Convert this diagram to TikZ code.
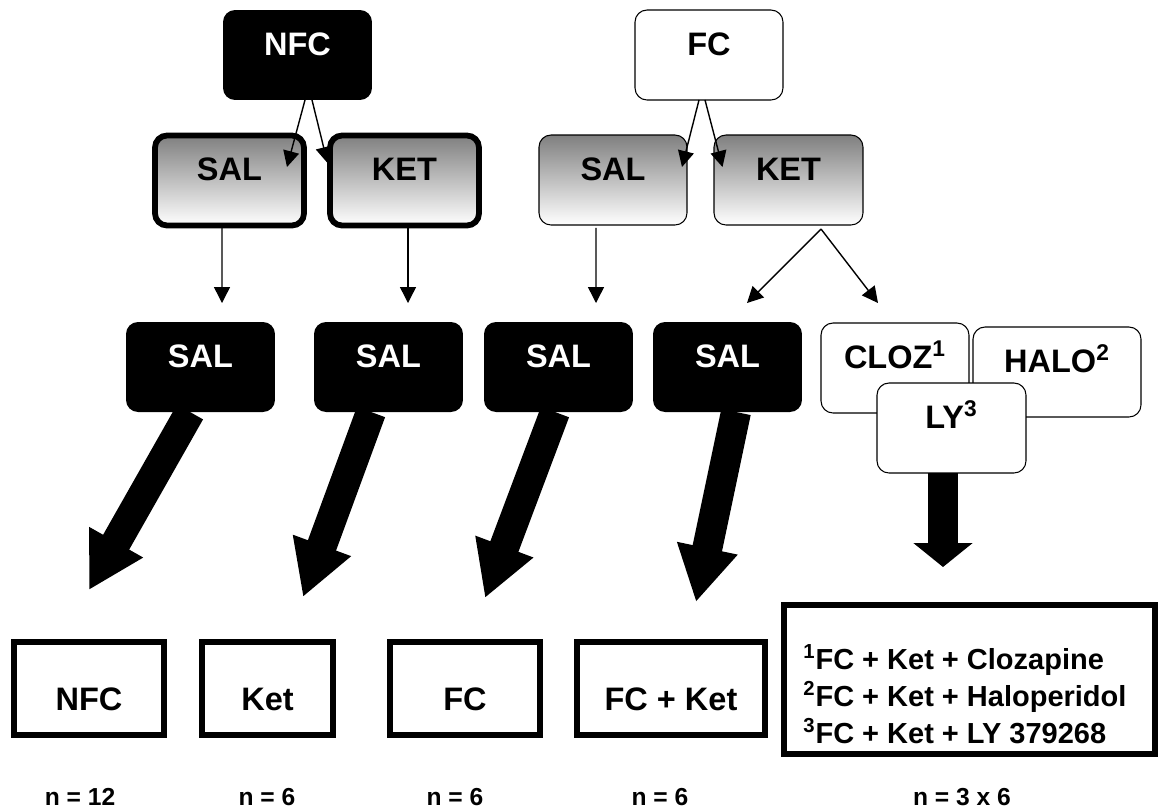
\documentclass[tikz,border=0pt]{standalone}
\usepackage{fontspec}
\setmainfont{Liberation Sans}
\usepackage{tikz}
\usetikzlibrary{shapes,arrows.meta,calc}

\begin{document}
\begin{tikzpicture}[x=0.02cm,y=-0.02cm,
    box/.style={rounded corners=0.24cm, outer sep=0pt, minimum width=2.98cm,
        minimum height=1.8cm, text height=0.5cm, text depth=0.5cm,
        font=\fontsize{18.5}{22}\selectfont\bfseries},
    blackbox/.style={box, fill=black, text=white},
    whitebox/.style={box, draw, line width=0.6pt, fill=white},
    gradbox/.style={box, draw, line width=0.6pt, top color=black!50, bottom color=white},
    heavybox/.style={gradbox, line width=3.3pt},
    resbox/.style={draw, line width=3.1pt, outer sep=0pt, minimum height=1.86cm,
        text height=0.88cm, text depth=0pt, font=\fontsize{18.5}{22}\selectfont\bfseries},
    thin/.style={line width=0.8pt, -{Triangle[length=0.32cm,width=0.32cm]}},
    fat/.style={line width=0.6cm, -{Triangle[length=1.1cm,width=1.16cm]}},
    count/.style={anchor=base, font=\fontsize{14}{16}\selectfont\bfseries}]
    \useasboundingbox (0,0) rectangle (1160,809);

    % Draw the groups
    \node [blackbox] (nfc) at (297.5,55) {NFC};
    \node [whitebox, minimum width=2.96cm] (fc) at (709,55) {FC};

    % Draw the first injection
    \node [heavybox] (sal1) at (229.5,180.5) {SAL};
    \node [heavybox] (ket1) at (404.5,180.5) {KET};
    \node [gradbox, minimum width=2.96cm] (sal2) at (613,180) {SAL};
    \node [gradbox] (ket2) at (788.5,180) {KET};

    % Draw the second injection
    \node [blackbox] (s1) at (200.5,367) {SAL};
    \node [blackbox] (s2) at (388.5,367) {SAL};
    \node [blackbox] (s3) at (558.5,367) {SAL};
    \node [blackbox] (s4) at (727.5,367) {SAL};
    \node [whitebox, minimum width=2.96cm] (cloz) at (895,368) {CLOZ\textsuperscript{1}};
    \node [whitebox, minimum width=3.36cm] (halo) at (1057,372) {HALO\textsuperscript{2}};
    \node [whitebox] (ly) at (951.5,428) {LY\textsuperscript{3}};

    % Draw the test groups
    \node [resbox, minimum width=3cm] (b1) at (89,688.5) {NFC};
    \node [resbox, minimum width=2.62cm] (b2) at (267.5,688.5) {Ket};
    \node [resbox, minimum width=3cm] (b3) at (465,688.5) {FC};
    \node [resbox, minimum width=3.76cm] (b4) at (671,688.5) {FC + Ket};
    \node [draw, line width=3.4pt, outer sep=0pt, minimum width=7.42cm,
        minimum height=2.98cm] (b5) at (969.5,679.5) {};
    \node [anchor=north west, inner sep=0pt, align=left,
        font=\fontsize{16.5}{21}\selectfont\bfseries] (keytext)
        at ($(b5.north west)+(19,39)$)
        {\textsuperscript{1}FC + Ket + Clozapine\\
         \textsuperscript{2}FC + Ket + Haloperidol\\
         \textsuperscript{3}FC + Ket + LY 379268};

    % Draw the thin arrows
    \draw [thin] ($(nfc.south)+(7.5,0)$) -- ($(sal1.north east)+(-17,31.5)$);
    \draw [thin] ($(nfc.south)+(14.5,0)$) -- ($(ket1.north west)+(-2.5,27.5)$);
    \draw [thin] ($(fc.south)+(-10,0)$) -- ($(sal2.north east)+(-5,32)$);
    \draw [thin] ($(fc.south)+(-4,0)$) -- ($(ket2.north west)+(8.5,32)$);
    \draw [thin] ($(sal1.south)+(-7.5,0)$) -- ($(s1.north)+(21.5,-19)$);
    \draw [thin] ($(ket1.south)+(3.5,0)$) -- ($(s2.north)+(19.5,-19)$);
    \draw [thin] ($(sal2.south)+(-17,3)$) -- ($(s3.north)+(37.5,-19)$);
    \draw [thin] ($(ket2.south)+(32.5,4)$) -- ($(s4.north)+(19.5,-19)$);
    \draw [thin] ($(ket2.south)+(32.5,4)$) -- ($(cloz.north)+(-17,-20)$);

    % Draw the fat arrows
    \draw [fat] ($(s1.south)+(-10.5,0)$) -- ($(b1.north)+(0,-52)$);
    \draw [fat] ($(s2.south)+(-17.5,0)$) -- ($(b2.north)+(35.5,-45)$);
    \draw [fat] ($(s3.south)+(-3.5,0)$) -- ($(b3.north)+(20,-44)$);
    \draw [fat] ($(s4.south)+(8.5,0)$) -- ($(b4.north)+(25,-40)$);
    \draw [line width=0.6cm, -{Triangle[length=0.48cm,width=1.16cm]}]
        ($(ly.south)+(-8.5,0)$) -- ($(b5.north)+(-26.5,-38)$);

    % Draw the group sizes
    \node [count] (n1) at (80,805) {n = 12};
    \node [count] (n2) at (267,805) {n = 6};
    \node [count] (n3) at (455,805) {n = 6};
    \node [count] (n4) at (660,805) {n = 6};
    \node [count] (n5) at (962,805) {n = 3 x 6};

\end{tikzpicture}
\end{document}
